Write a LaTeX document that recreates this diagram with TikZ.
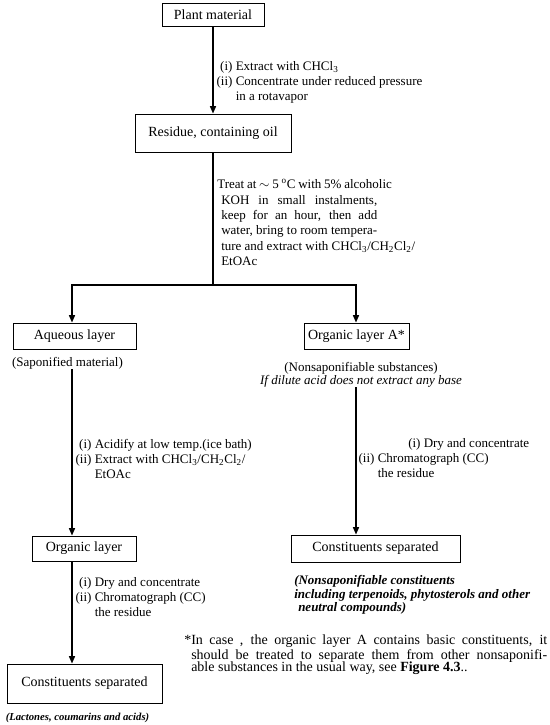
\documentclass[tikz,border=0pt]{standalone}
\usepackage{fontspec}
\setmainfont{Liberation Serif}
\usetikzlibrary{arrows.meta, positioning, calc}

\newcommand{\stepno}[1]{\makebox[1.25em][r]{#1}\ }
\newcommand{\stepgap}{\hspace*{1.25em}\ }

\begin{document}
\begin{tikzpicture}[
  x=0.75pt, y=-0.75pt,
  box/.style={draw, line width=0.7pt, inner sep=0pt, align=center, font=\fontsize{10.5}{12}\selectfont},
  lbl/.style={inner sep=0pt, align=left, font=\fontsize{9.75}{11.25}\selectfont},
  arr/.style={-{Triangle[length=5.5pt, width=4.5pt]}, line width=1pt},
  note/.style={inner sep=0pt, align=left, font=\fontsize{9.75}{10}\selectfont\bfseries\itshape}
]
\useasboundingbox (0,0) rectangle (550,725);

\coordinate (lcol) at (72,0);
\coordinate (rcol) at (356,0);
\coordinate (junc) at (213,285);

\node[box, minimum width=76.5pt, minimum height=17.25pt] (plant) at (213,14.5) {Plant material};
\node[box, minimum width=117pt, minimum height=28.5pt] (res) at (213,133) {Residue, containing oil};
\node[box, minimum width=92.25pt, minimum height=19.5pt] (aq) at (74.5,336) {Aqueous layer};
\node[box, minimum width=78.75pt, minimum height=19.5pt] (orgA) at (356.5,336) {Organic layer A*};
\node[box, minimum width=78pt, minimum height=18.75pt] (org) at (84,548.5) {Organic layer};
\node[box, minimum width=116.25pt, minimum height=29.25pt] (consL) at (84.5,683.5) {Constituents separated};
\node[box, minimum width=126.75pt, minimum height=20.25pt] (consR) at (375.5,548.5) {Constituents separated};

\node[lbl, anchor=west] (ext) at (216,82) {\stepno{(i)}Extract with CHCl\textsubscript{3}\\
  \stepno{(ii)}Concentrate under reduced pressure\\
  \stepgap in a rotavapor};
\node[lbl, anchor=west, font=\fontsize{9.75}{11.5}\selectfont] (treat) at (217,222.5) {\hbox to 131pt{Treat\hfil\ at\hfil\ $\sim$\hfil\ 5\hfil\ \textsuperscript{o}C\hfil\ with\hfil\ 5\%\hfil\ alcoholic}\\
  \hspace*{3pt}\makebox[117pt][s]{KOH in small instalments,}\\
  \hspace*{3pt}\makebox[117pt][s]{keep for an hour, then add}\\
  \hspace*{3pt}\makebox[117pt][s]{water, bring to room tempera-}\\
  \hspace*{3pt}ture and extract with CHCl\textsubscript{3}/CH\textsubscript{2}Cl\textsubscript{2}/\\
  \hspace*{3pt}EtOAc};
\node[lbl, align=center] (sap) at (67.5,363) {(Saponified material)};
\node[lbl, align=center, font=\fontsize{9.75}{10}\selectfont] (noteA) at (361,374.5) {(Nonsaponifiable substances)\\
  \textit{If dilute acid does not extract any base}};
\node[lbl, anchor=west] (acid) at (75,459) {\stepno{(i)}Acidify at low temp.(ice bath)\\
  \stepno{(ii)}Extract with CHCl\textsubscript{3}/CH\textsubscript{2}Cl\textsubscript{2}/\\
  \stepgap EtOAc};
\node[lbl, anchor=west] (dryR) at (358,458) {\hspace*{34.5pt}\stepno{(i)}Dry and concentrate\\
  \stepno{(ii)}Chromatograph (CC)\\
  \stepgap the residue};
\node[lbl, anchor=west] (dryL) at (75,597) {\stepno{(i)}Dry and concentrate\\
  \stepno{(ii)}Chromatograph (CC)\\
  \stepgap the residue};
\node[note, anchor=west] (neutral) at (294,595) {(Nonsaponifiable constituents\\
  including terpenoids, phytosterols and other\\
  \hspace*{3pt}neutral compounds)};
\node[lbl, anchor=west, font=\fontsize{10.5}{9.6}\selectfont] (foot) at (191,655) {\llap{*}\makebox[267pt][s]{In case , the organic layer A contains basic constituents, it}\\
  \makebox[267pt][s]{should be treated to separate them from other nonsaponifi-}\\
  able substances in the usual way, see \textbf{Figure 4.3}..};
\node[note, align=center, font=\fontsize{8}{9}\selectfont\bfseries\itshape] (lact) at (77.5,718) {(Lactones, coumarins and acids)};

\draw[arr] (plant) -- (res);
\draw[line width=1pt] (res) -- (junc);
\draw[arr] (junc) -| (aq.north -| lcol);
\draw[arr] (junc) -| (orgA.north -| rcol);
\draw[arr] (sap.south -| lcol) -- (org.north -| lcol);
\draw[arr] (org.south -| lcol) -- (consL.north -| lcol);
\draw[arr] (noteA.south -| rcol) -- (consR.north -| rcol);

\end{tikzpicture}
\end{document}
